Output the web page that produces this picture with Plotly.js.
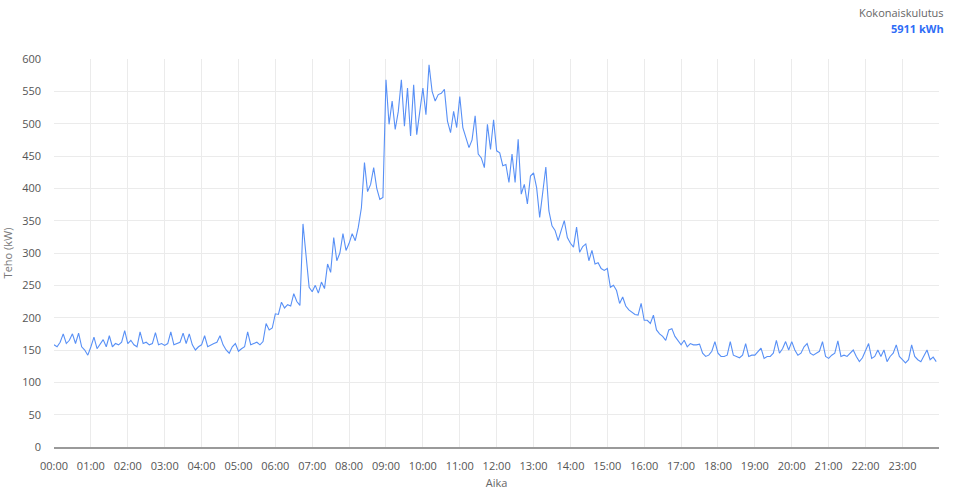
<!DOCTYPE html>
<html>
<head>
<meta charset="utf-8">
<script src="https://cdn.plot.ly/plotly-3.0.1.min.js"></script>
<style>html,body{margin:0;padding:0;background:#fff;}#chart{width:953px;height:490px;}</style>
</head>
<body>
<div id="chart"></div>
<script>
// Power readings (kW), 5-minute intervals, one array per hour of the day
const h00 = [158,155,162,175,160,165,175,160,176,155,150,142];
const h01 = [155,170,152,160,166,155,172,155,160,158,162,180];
const h02 = [160,165,158,155,178,160,162,158,160,177,158,160];
const h03 = [157,160,178,158,160,162,176,160,175,158,150,155];
const h04 = [158,172,155,158,160,162,172,158,150,145,155,160];
const h05 = [148,152,155,178,158,160,162,158,163,191,181,184];
const h06 = [206,205,224,215,220,218,237,225,219,345,300,247];
const h07 = [240,250,238,255,245,283,270,324,288,300,330,304];
const h08 = [315,330,319,340,370,440,395,406,432,400,383,386];
const h09 = [568,499,535,491,519,568,496,555,481,560,483,519];
const h10 = [555,514,591,550,535,545,547,553,504,486,519,494];
const h11 = [542,494,478,463,475,512,453,447,432,499,460,506];
const h12 = [458,455,435,437,409,453,409,476,391,406,376,419];
const h13 = [424,401,355,391,433,365,342,335,319,335,350,324];
const h14 = [315,309,340,301,310,314,288,304,283,285,276,273];
const h15 = [276,247,250,242,222,232,218,212,209,205,204,222];
const h16 = [196,196,191,204,181,175,171,165,181,183,171,165];
const h17 = [158,165,155,160,158,158,159,145,140,142,148,163];
const h18 = [145,140,140,142,163,142,140,138,142,160,140,142];
const h19 = [142,148,153,137,140,140,145,165,145,152,163,150];
const h20 = [163,150,142,145,155,160,145,142,145,148,163,140];
const h21 = [137,142,145,164,140,142,140,145,150,140,132,138];
const h22 = [150,160,137,140,150,140,150,132,140,145,158,140];
const h23 = [135,130,135,158,140,135,132,142,150,135,139,132];

const hours = [h00,h01,h02,h03,h04,h05,h06,h07,h08,h09,h10,h11,h12,h13,h14,h15,h16,h17,h18,h19,h20,h21,h22,h23];
const dayStart = '2024-01-01';
const stepMinutes = 5;
const totalLabel = 'Kokonaiskulutus';
const totalValue = '5911 kWh';

const power = [].concat(...hours);
function pad(n){return (n<10?'0':'')+n;}
const times = power.map((_, i) => {
  const m = i * stepMinutes;
  return dayStart + ' ' + pad(Math.floor(m/60)) + ':' + pad(m%60);
});

const font = "'Open Sans', 'Noto Sans', sans-serif";
const trace = {
  x: times, y: power, type: 'scatter', mode: 'lines',
  line: {color: '#5890f6', width: 1.1},
  hoverinfo: 'x+y'
};
const layout = {
  width: 953, height: 490,
  margin: {l: 54, r: 14, t: 59, b: 43},
  paper_bgcolor: '#fff', plot_bgcolor: '#fff',
  font: {family: font, size: 11, color: '#555'},
  showlegend: false,
  xaxis: {
    type: 'date',
    range: [dayStart + ' 00:00', dayStart + ' 23:59:30'],
    dtick: 3600000, tickformat: '%H:%M',
    showgrid: true, gridcolor: '#ebebeb', gridwidth: 1,
    showline: true, linecolor: '#9a9a9a', linewidth: 1.5,
    zeroline: false, ticks: '', ticklen: 0,
    ticklabelstandoff: 8,
    tickfont: {size: 11, color: '#555'},
    title: {text: 'Aika', font: {size: 11, color: '#666'}, standoff: 16},
    automargin: false
  },
  yaxis: {
    range: [0, 600], dtick: 50,
    showgrid: true, gridcolor: '#ebebeb', gridwidth: 1,
    zeroline: false, showline: false, ticks: '',
    ticklabelstandoff: 12,
    tickfont: {size: 11, color: '#555'},
    title: {text: 'Teho (kW)', font: {size: 11, color: '#777'}, standoff: 10},
    automargin: false
  },
  annotations: [
    {xref: 'paper', yref: 'paper', x: 1.008, y: 1.0, yshift: 47, xanchor: 'right', yanchor: 'middle',
     text: totalLabel, showarrow: false, font: {size: 11, color: '#666', family: font}},
    {xref: 'paper', yref: 'paper', x: 1.008, y: 1.0, yshift: 31, xanchor: 'right', yanchor: 'middle',
     text: '<b>' + totalValue + '</b>', showarrow: false, font: {size: 11, color: '#2f6df6', family: font}}
  ]
};
Plotly.newPlot('chart', [trace], layout, {displayModeBar: false, staticPlot: true});
</script>
</body>
</html>
